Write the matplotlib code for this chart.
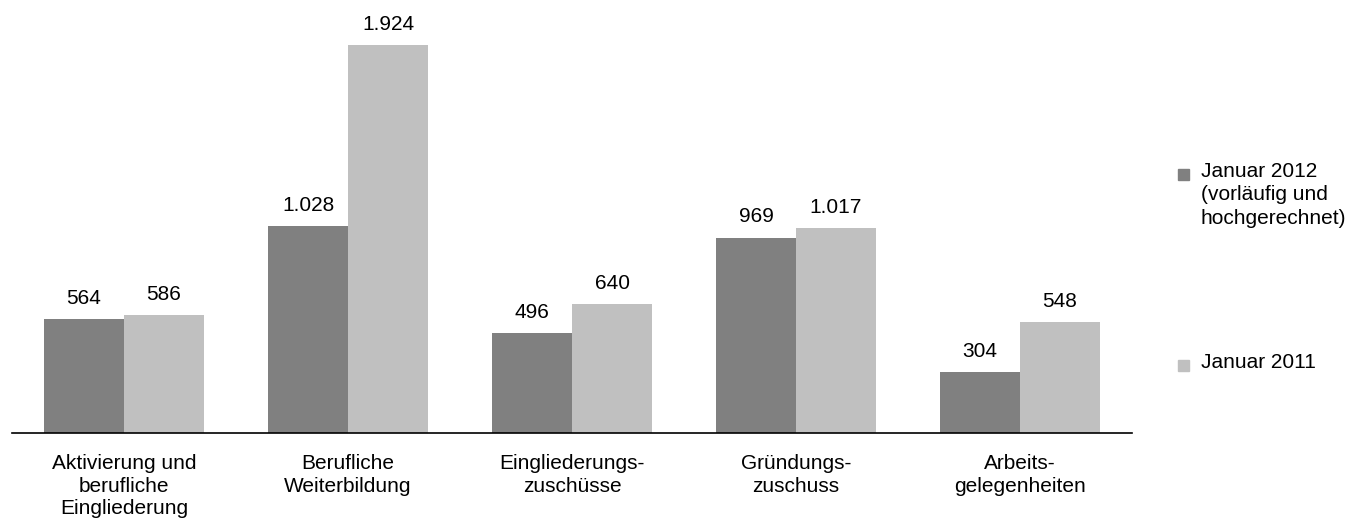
import matplotlib.pyplot as plt
from matplotlib.patches import Rectangle
import numpy as np

plt.rcParams['font.family'] = ['Liberation Sans', 'DejaVu Sans']

# Data
categories = ["Aktivierung und\nberufliche\nEingliederung", "Berufliche\nWeiterbildung",
              "Eingliederungs-\nzuschüsse", "Gründungs-\nzuschuss", "Arbeits-\ngelegenheiten"]
jan_2012 = [564, 1028, 496, 969, 304]
jan_2011 = [586, 1924, 640, 1017, 548]
series_names = ["Januar 2012\n(vorläufig und\nhochgerechnet)", "Januar 2011"]
colors = ["#808080", "#c0c0c0"]

def fmt(v):
    return f"{v:,}".replace(",", ".")

fig = plt.figure(figsize=(13.64, 5.2), dpi=100)
# axes: x from 12 to 1132 px, baseline at y=433 px
ax = fig.add_axes([12 / 1364, (520 - 433) / 520, 1120 / 1364, 433 / 520])

x = np.arange(len(categories))
w = 80 / 224
ax.bar(x - w / 2, jan_2012, w, color=colors[0])
ax.bar(x + w / 2, jan_2011, w, color=colors[1])

for xi, v in zip(x, jan_2012):
    ax.annotate(fmt(v), (xi - w / 2, v), xytext=(0, 8), textcoords="offset points",
                ha="center", va="bottom", fontsize=15)
for xi, v in zip(x, jan_2011):
    ax.annotate(fmt(v), (xi + w / 2, v), xytext=(0, 8), textcoords="offset points",
                ha="center", va="bottom", fontsize=15)

ax.set_xlim(-0.5, len(categories) - 0.5)
ax.set_ylim(0, 433 / (388 / 1924))
ax.set_xticks(x)
ax.set_xticklabels(categories, fontsize=15, linespacing=1.25)
ax.tick_params(axis="x", length=0, pad=15)
ax.set_yticks([])
for s in ["top", "right", "left"]:
    ax.spines[s].set_visible(False)
ax.spines["bottom"].set_linewidth(1.2)

# Legend drawn by hand to match the wide spacing
leg_y = [174, 365]
for yy, name, c in zip(leg_y, series_names, colors):
    fig.add_artist(Rectangle((1178 / 1364, (520 - yy - 6) / 520), 11 / 1364, 11 / 520,
                             transform=fig.transFigure, color=c))
    fig.text(1201 / 1364, (520 - yy + 12) / 520, name, fontsize=15, va="top", ha="left",
             linespacing=1.3)

fig.savefig("out.png", dpi=100)
